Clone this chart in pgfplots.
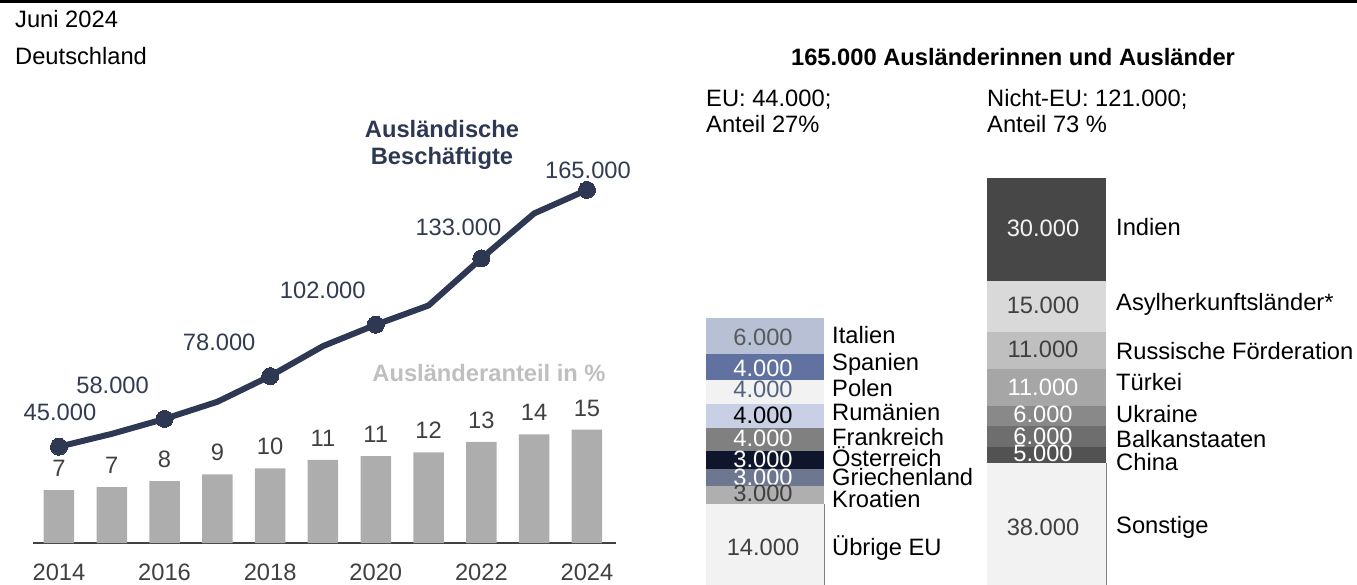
\documentclass[border=0pt]{standalone}
\usepackage{pgfplots}
\usepackage{pgfplotstable}
\pgfplotsset{compat=1.18}
\usepackage{fontspec}
\setmainfont{Liberation Sans}
\newcommand\fs{\fontsize{23.7}{28.4}\selectfont}
\definecolor{navy}{RGB}{46,56,82}
\definecolor{navytext}{RGB}{50,59,82}
\definecolor{bargray}{RGB}{173,173,173}
\definecolor{lblgray}{RGB}{64,64,64}
\definecolor{anteilgray}{RGB}{191,191,191}
\definecolor{cIta}{RGB}{184,192,214}
\definecolor{cSpa}{RGB}{98,114,160}
\definecolor{cPol}{RGB}{242,242,242}
\definecolor{cRum}{RGB}{201,208,229}
\definecolor{cFra}{RGB}{128,128,128}
\definecolor{cOst}{RGB}{15,22,43}
\definecolor{cGri}{RGB}{109,119,143}
\definecolor{cKro}{RGB}{175,175,175}
\definecolor{cUeb}{RGB}{242,242,242}
\definecolor{cInd}{RGB}{71,71,71}
\definecolor{cAsy}{RGB}{217,217,217}
\definecolor{cRus}{RGB}{191,191,191}
\definecolor{cTur}{RGB}{166,166,166}
\definecolor{cUkr}{RGB}{137,137,137}
\definecolor{cBal}{RGB}{110,110,110}
\definecolor{cChi}{RGB}{82,82,82}
\definecolor{cSon}{RGB}{242,242,242}
\definecolor{tIta}{RGB}{89,89,89}
\definecolor{tPol}{RGB}{84,99,125}
\definecolor{tInd}{RGB}{242,242,242}

\pgfplotstableread{
year share label
2014 7.0 7
2015 7.4 7
2016 8.2 8
2017 9.1 9
2018 9.9 10
2019 11.0 11
2020 11.5 11
2021 12.0 12
2022 13.4 13
2023 14.4 14
2024 15.0 15
}\sharetab

\pgfplotstableread{
year emp
2014 45
2015 51
2016 58
2017 66
2018 78
2019 92
2020 102
2021 111
2022 133
2023 154
2024 165
}\emptab

\newcommand{\vl}[4]{\node[anchor=base, text=#1, inner sep=0pt] at (#2,#3) {#4};}
\newcommand{\nl}[3]{\node[anchor=base west, text=black, inner sep=0pt] at (#1,#2) {#3};}

\begin{document}
\begin{tikzpicture}[font=\fs]
\begin{scope}[x=1pt,y=-1pt]
\draw[line width=3pt] (0,1.5) -- (1357,1.5);
\node[anchor=base west, inner sep=0pt] at (15,28) {Juni 2024};
\node[anchor=base west, inner sep=0pt] at (15,65) {Deutschland};
\end{scope}

% ---- bars: Auslaenderanteil
\begin{axis}[at={(33pt,-543pt)}, anchor=south west, scale only axis,
  width=583pt, height=373pt,
  xmin=2013.508, xmax=2024.55, ymin=0, ymax=49.4, enlargelimits=false,
  axis x line*=bottom, axis y line=none,
  x axis line style={line width=2pt, draw=lblgray, -},
  xtick={2014,2016,2018,2020,2022,2024},
  xticklabels={2014,2016,2018,2020,2022,2024},
  major tick length=0pt, xtick style={draw=none},
  xticklabel style={anchor=base, inner sep=0pt, yshift=-37.4pt, font=\fs, text=lblgray},
  clip=false]
\addplot[ybar, bar width=30.5pt, fill=bargray, draw=none,
  nodes near coords, point meta=explicit symbolic,
  nodes near coords style={anchor=base, inner sep=0pt, yshift=13.6pt, font=\fs, text=lblgray}]
  table[x=year, y=share, meta=label] {\sharetab};
\end{axis}

% ---- line: Auslaendische Beschaeftigte (in 1000)
\begin{axis}[at={(33pt,-543pt)}, anchor=south west, scale only axis,
  width=583pt, height=373pt,
  xmin=2013.508, xmax=2024.55, ymin=0, ymax=174.3, enlargelimits=false,
  axis lines=none, clip=false]
\addplot[navy, line width=6pt, mark=*, mark repeat=2, mark size=8.5pt,
  mark options={fill=navy, draw=navy, line width=0pt}]
  table[x=year, y=emp] {\emptab};
\node[anchor=center, text=navytext, font=\fs, xshift=1pt, yshift=34pt] at (axis cs:2014,45) {45.000};
\node[anchor=center, text=navytext, font=\fs, xshift=-52pt, yshift=34pt] at (axis cs:2016,58) {58.000};
\node[anchor=center, text=navytext, font=\fs, xshift=-51pt, yshift=34pt] at (axis cs:2018,78) {78.000};
\node[anchor=center, text=navytext, font=\fs, xshift=-53pt, yshift=34pt] at (axis cs:2020,102) {102.000};
\node[anchor=center, text=navytext, font=\fs, xshift=-23pt, yshift=31pt] at (axis cs:2022,133) {133.000};
\node[anchor=center, text=navytext, font=\fs, xshift=1pt, yshift=20pt] at (axis cs:2024,165) {165.000};
\end{axis}

% ---- EU stacked bar (in 1000)
\begin{axis}[at={(706pt,-588pt)}, anchor=south west, scale only axis,
  width=118pt, height=270pt, xmin=-0.5, xmax=0.5, ymin=0, ymax=44.1,
  enlargelimits=false, axis lines=none, ybar stacked, bar width=118pt, clip=false]
\addplot[fill=cUeb, draw=none] coordinates {(0,13.8)};
\addplot[fill=cKro, draw=none] coordinates {(0,2.8)};
\addplot[fill=cGri, draw=none] coordinates {(0,2.9)};
\addplot[fill=cOst, draw=none] coordinates {(0,2.8)};
\addplot[fill=cFra, draw=none] coordinates {(0,3.9)};
\addplot[fill=cRum, draw=none] coordinates {(0,3.9)};
\addplot[fill=cPol, draw=none] coordinates {(0,3.9)};
\addplot[fill=cSpa, draw=none] coordinates {(0,4.2)};
\addplot[fill=cIta, draw=none] coordinates {(0,5.9)};
\draw[color=gray, line width=1pt] (axis cs:0.5,0) -- (axis cs:0.5,13.8);
\draw[color=black!25, line width=0.8pt] (axis cs:-0.5,0) -- (axis cs:-0.5,13.8);
\end{axis}

% ---- Non-EU stacked bar (in 1000)
\begin{axis}[at={(987pt,-588pt)}, anchor=south west, scale only axis,
  width=119pt, height=410pt, xmin=-0.5, xmax=0.5, ymin=0, ymax=120.9,
  enlargelimits=false, axis lines=none, ybar stacked, bar width=119pt, clip=false]
\addplot[fill=cSon, draw=none] coordinates {(0,37.0)};
\addplot[fill=cChi, draw=none] coordinates {(0,4.7)};
\addplot[fill=cBal, draw=none] coordinates {(0,6.2)};
\addplot[fill=cUkr, draw=none] coordinates {(0,5.9)};
\addplot[fill=cTur, draw=none] coordinates {(0,10.9)};
\addplot[fill=cRus, draw=none] coordinates {(0,10.9)};
\addplot[fill=cAsy, draw=none] coordinates {(0,15.0)};
\addplot[fill=cInd, draw=none] coordinates {(0,30.3)};
\draw[color=gray, line width=1pt] (axis cs:0.5,0) -- (axis cs:0.5,37.0);
\draw[color=black!25, line width=0.8pt] (axis cs:-0.5,0) -- (axis cs:-0.5,37.0);
\end{axis}

\begin{scope}[x=1pt,y=-1pt]
\node[anchor=base, text=navy, inner sep=0pt, font=\fs\bfseries] at (442,138) {Ausländische};
\node[anchor=base, text=navy, inner sep=0pt, font=\fs\bfseries] at (442,165) {Beschäftigte};
\node[anchor=base, text=anteilgray, inner sep=0pt, font=\fs\bfseries] at (489,381) {Ausländeranteil in \%};

% ---- right panel headers
\node[anchor=base, inner sep=0pt, font=\fs\bfseries] at (1013,66) {165.000 Ausländerinnen und Ausländer};
\node[anchor=base west, inner sep=0pt] at (706,107) {EU: 44.000;};
\node[anchor=base west, inner sep=0pt] at (706,133) {Anteil 27\%};
\node[anchor=base west, inner sep=0pt] at (987,107) {Nicht-EU: 121.000;};
\node[anchor=base west, inner sep=0pt] at (987,133) {Anteil 73 \%};

% ---- EU labels
\vl{tIta}{763}{345}{6.000}   \nl{832}{343}{Italien}
\vl{white}{763}{376}{4.000}  \nl{832}{370}{Spanien}
\vl{tPol}{763}{397}{4.000}   \nl{832}{396}{Polen}
\vl{black}{763}{423}{4.000}  \nl{832}{420}{Rumänien}
\vl{white}{763}{446}{4.000}  \nl{832}{445}{Frankreich}
\vl{white}{763}{467}{3.000}  \nl{832}{466}{Österreich}
\vl{white}{763}{485}{3.000}  \nl{832}{485}{Griechenland}
\vl{lblgray}{763}{501}{3.000} \nl{832}{507}{Kroatien}
\vl{lblgray}{763}{555}{14.000} \nl{832}{555}{Übrige EU}

% ---- Non-EU labels
\vl{tInd}{1043}{237}{30.000}    \nl{1116}{236}{Indien}
\vl{lblgray}{1043}{313}{15.000} \nl{1116}{311}{Asylherkunftsländer*}
\vl{lblgray}{1043}{357}{11.000} \nl{1116}{359}{Russische Förderation}
\vl{white}{1043}{395}{11.000}   \nl{1116}{390}{Türkei}
\vl{white}{1043}{422}{6.000}    \nl{1116}{422}{Ukraine}
\vl{white}{1043}{444}{6.000}    \nl{1116}{447}{Balkanstaaten}
\vl{white}{1043}{461}{5.000}    \nl{1116}{470}{China}
\vl{lblgray}{1043}{535}{38.000} \nl{1116}{533}{Sonstige}
\end{scope}
\pgfresetboundingbox
\path[use as bounding box] (0pt,0pt) rectangle (1357pt,-585pt);
\end{tikzpicture}
\end{document}
